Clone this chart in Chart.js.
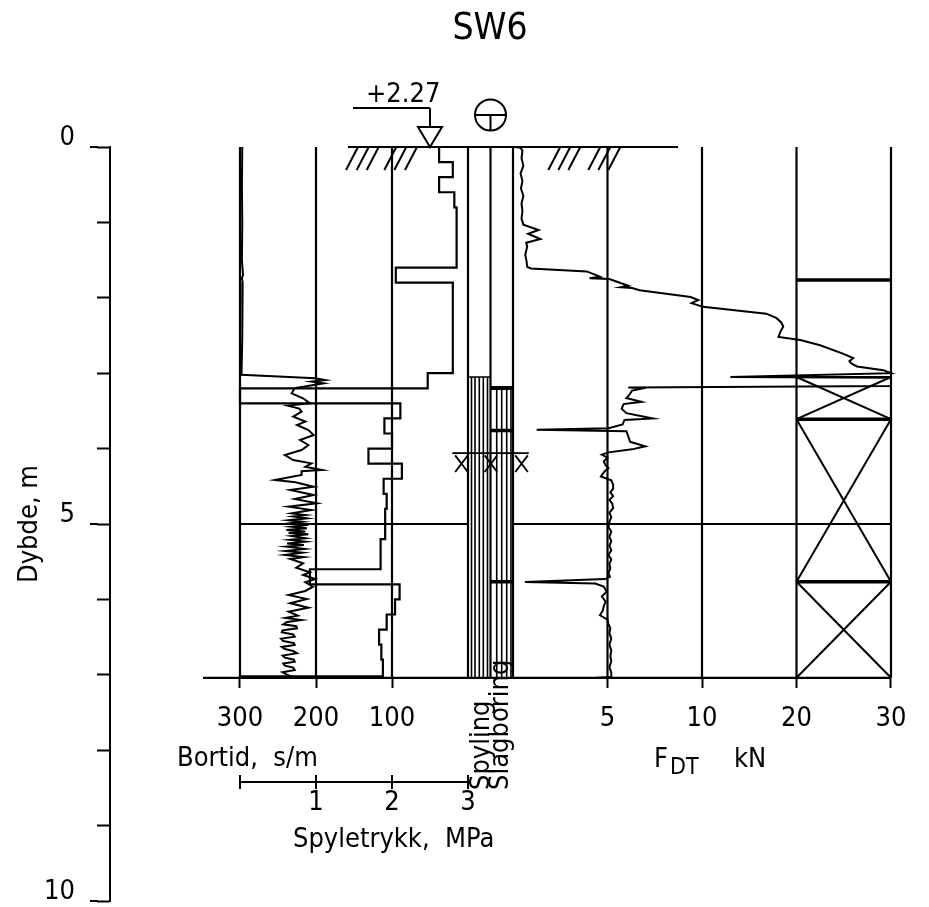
<!DOCTYPE html>
<html>
<head>
<meta charset="utf-8">
<title>SW6</title>
<script src="https://cdn.jsdelivr.net/npm/chart.js@4.4.1/dist/chart.umd.min.js"></script>
<style>
html,body{margin:0;padding:0;background:#fff;overflow:hidden}
#wrap{position:relative;width:929px;height:907px}
</style>
</head>
<body>
<div id="wrap"><canvas id="c" width="929" height="907"></canvas></div>
<script>
// ================= DATA =================
const chartTitle = 'SW6';
const groundLevelText = '+2.27';
const depthTickValues = [0,1,2,3,4,5,6,7,8,9,10];
const depthTickLabels = ['0','','','','','5','','','','','10'];
const bortidTickValues = [300,200,100];
const bortidTickLabels = ['300','200','100'];
const pressureTickValues = [1,2,3];
const pressureTickLabels = ['1','2','3'];
const forceTickValues = [5,10,20,30];
const forceTickLabels = ['5','10','20','30'];
const endDepth = 7.04;

// Bortid (s/m) vs depth (m)
const bortidDepth = [0.00,0.50,1.00,1.50,1.70,1.74,1.80,2.50,3.02,3.068,3.09,3.112,3.134,3.16,3.20,3.267,3.333,3.40,3.43,3.47,3.51,3.576,3.642,3.687,3.753,3.82,3.886,3.952,4.019,4.085,4.151,4.196,4.24,4.284,4.30,4.35,4.416,4.447,4.505,4.549,4.615,4.668,4.726,4.77,4.814,4.859,4.88,4.90,4.925,4.95,4.97,4.991,5.01,5.035,5.055,5.08,5.10,5.12,5.137,5.16,5.19,5.21,5.234,5.26,5.28,5.301,5.33,5.358,5.38,5.411,5.44,5.464,5.522,5.579,5.641,5.676,5.729,5.773,5.831,5.888,5.941,5.995,6.052,6.11,6.163,6.216,6.245,6.273,6.30,6.331,6.355,6.384,6.41,6.437,6.465,6.494,6.52,6.552,6.58,6.605,6.63,6.658,6.685,6.715,6.745,6.773,6.80,6.826,6.85,6.879,6.905,6.936,6.965,6.994,7.025];
const bortidValue = [297,297.5,297,297.5,296,297.5,296.5,297,298,201,188,206,190,205,228,232,217,208,237,222,219,230,214,225,210,203,221,210,219,241,230,206,214,192,219,219,254,227,203,234,203,228,199,236,206,232,214,230,212,236,218,234,210,232,212,239,214,236,210,232,214,234,214,238,216,239,215,240,218,241,216,234,217,226,208,217,201,214,204,214,236,212,234,210,236,224,240,219,238,243,226,225,244,245,230,228,246,243,229,228,245,241,230,225,244,241,229,228,243,241,230,228,244,239,232];

// Spyletrykk (MPa): value valid from each depth down to the next one
const pressureDepth = [0,0.2,0.4,0.6,0.8,1.6,1.8,3.0,3.2,3.4,3.6,3.8,4.0,4.2,4.4,4.6,4.8,5.2,5.6,5.8,6.0,6.2,6.4,6.6,6.8,7.02];
const pressureValue = [2.62,2.80,2.62,2.82,2.85,2.05,2.80,2.47,0,2.11,1.90,2.00,1.69,2.13,1.89,1.93,1.91,1.85,0.92,2.10,2.04,1.93,1.83,1.86,1.88,0];

// F_DT (kN) vs depth (m)
const forceDepth = [0.00,0.01,0.05,0.15,0.25,0.35,0.45,0.55,0.65,0.75,0.85,0.95,1.03,1.10,1.15,1.22,1.27,1.32,1.43,1.52,1.59,1.61,1.65,1.70,1.72,1.74,1.75,1.80,1.84,1.86,1.87,1.90,1.99,2.03,2.07,2.12,2.21,2.27,2.33,2.38,2.45,2.52,2.56,2.63,2.74,2.80,2.84,2.87,2.91,2.96,3.00,3.05,3.06,3.17,3.19,3.20,3.23,3.27,3.33,3.38,3.41,3.47,3.53,3.60,3.62,3.68,3.73,3.75,3.77,3.84,3.91,3.97,4.01,4.05,4.08,4.12,4.17,4.22,4.26,4.30,4.37,4.42,4.48,4.53,4.58,4.63,4.68,4.73,4.79,4.85,4.91,4.97,5.04,5.10,5.17,5.23,5.29,5.35,5.41,5.47,5.53,5.59,5.65,5.70,5.73,5.77,5.79,5.83,5.90,5.96,6.03,6.09,6.15,6.21,6.27,6.33,6.38,6.45,6.52,6.60,6.68,6.75,6.82,6.90,6.97,7.03,7.04];
const forceValue = [0.1,0.4,0.5,0.45,0.55,0.4,0.5,0.42,0.55,0.45,0.5,0.45,0.55,1.35,0.8,1.45,0.7,0.75,0.65,0.72,0.75,0.95,3.9,4.4,4.6,4.05,5.1,5.65,6.1,5.7,6.3,6.7,9.4,9.8,9.45,10.1,16.8,17.9,18.4,18.6,18.3,18.1,20.4,22.5,24.9,26.0,25.6,25.8,26.4,29.2,30.0,13.0,30.0,30.0,6.1,6.9,6.3,6.2,6.0,6.8,5.85,5.75,6.0,7.4,5.9,5.8,5.05,1.25,6.0,6.1,6.2,7.0,6.3,5.05,4.7,5.0,4.8,4.9,5.05,4.85,4.65,5.2,5.3,5.3,5.15,5.3,5.1,5.25,5.3,5.1,5.2,5.1,5.05,5.2,5.1,5.2,5.1,5.2,5.05,5.2,5.1,5.15,5.05,5.13,4.87,0.63,4.35,4.8,4.96,4.7,4.9,4.8,4.75,4.6,5.0,5.05,5.15,5.1,5.2,5.1,5.2,5.15,5.2,5.1,5.2,5.2,4.4];

// Drilling mode columns (depth intervals, m)
const spylingInterval = [3.05, 7.04];
const slagboringInterval = [3.18, 7.04];
const slagboringMarks = [3.20, 3.76, 5.765];
const stoneMarkDepth = 4.06;
// Right column (20-30 kN): marks and crossed intervals
const rightColumnMarks = [1.764, 3.61, 5.765];
const rightColumnCrosses = [[3.05, 3.61], [3.61, 5.765], [5.765, 7.04]];

// ================= LAYOUT (pixels, not data) =================
const FONT = "'Liberation Sans Narrow', 'DejaVu Sans Condensed', 'Liberation Sans', sans-serif";
// chart area right edge chosen so the (chart-area-centred) title sits at x = 490
const AREA = {left: 110, right: 870, top: 147, bottom: 901};
const SCALEBAR_DEPTH = 8.422;
function axisRange(v1, p1, v2, p2) {
  const k = (p2 - p1) / (v2 - v1);
  const a = v1 + (AREA.left - p1) / k, b = v1 + (AREA.right - p1) / k;
  return {min: Math.min(a, b), max: Math.max(a, b)};
}
const fx = f => (f <= 10 ? f : 10 + (f - 10) / 2);   // piecewise F_DT scale (0-10 and 10-30)
const rB = axisRange(300, 240, 0, 468);
const rP = axisRange(0, 240, 3, 468);
const rF = axisRange(0, 513, 10, 702);
const rC = axisRange(0, 468, 2, 513);
const spylingHatch = [0.156, 0.311, 0.502, 0.680, 0.867];
const slagHatch = [1.276, 1.498, 1.72, 1.91];

function segData(segs) {
  const out = [];
  segs.forEach(s => { out.push({x: s[0], y: s[1]}, {x: s[2], y: s[3]}, {x: null, y: null}); });
  return out;
}
const lineDs = (label, axis, data, width, extra) => Object.assign({
  label, xAxisID: axis, yAxisID: 'y', data, showLine: true, borderColor: '#000',
  backgroundColor: '#000', borderWidth: width, pointRadius: 0, fill: false, tension: 0, clip: false
}, extra || {});

const datasets = [
  lineDs('Bortid', 'xb', bortidDepth.map((d, i) => ({x: bortidValue[i], y: d})), 2),
  lineDs('Spyletrykk', 'xp', pressureDepth.map((d, i) => ({x: pressureValue[i], y: d})), 2.2, {stepped: 'after'}),
  lineDs('F_DT', 'xf', forceDepth.map((d, i) => ({x: fx(forceValue[i]), y: d})), 2),
  lineDs('Spyling', 'xc', segData([
    ...spylingHatch.map(h => [h, spylingInterval[0], h, spylingInterval[1]]),
    [0, spylingInterval[0], 1, spylingInterval[0]]
  ]), 1.6),
  lineDs('Slagboring', 'xc', segData([
    ...slagHatch.map(h => [h, slagboringInterval[0], h, slagboringInterval[1]]),
    [1, slagboringInterval[0], 2, slagboringInterval[0]]
  ]), 1.6),
  lineDs('Slagboring marks', 'xc', segData(slagboringMarks.map(d => [1, d, 2, d])), 3.5),
  lineDs('Stone', 'xc', segData([
    [-0.7, stoneMarkDepth, 2.7, stoneMarkDepth],
    ...[-0.29, 1.02, 2.38].flatMap(c => [[c - 0.28, stoneMarkDepth + 0.03, c + 0.28, stoneMarkDepth + 0.25], [c + 0.28, stoneMarkDepth + 0.03, c - 0.28, stoneMarkDepth + 0.25]])
  ]), 1.8),
  lineDs('Right marks', 'xf', segData(rightColumnMarks.map(d => [fx(20), d, fx(30), d])), 3.6),
  lineDs('Right crosses', 'xf', segData(rightColumnCrosses.flatMap(c => [
    [fx(20), c[0], fx(30), c[0]], [fx(20), c[0], fx(30), c[1]], [fx(30), c[0], fx(20), c[1]]
  ])), 2)
];

// ================= CHART =================
Chart.defaults.font.family = FONT;
Chart.defaults.color = '#000';

function txt(ctx, s, x, y, size, align, rot, sx) {
  ctx.save();
  ctx.translate(x, y);
  if (rot) ctx.rotate(rot);
  ctx.scale(sx || 1, 1);
  ctx.font = size + 'px ' + FONT;
  ctx.textAlign = align || 'left';
  ctx.textBaseline = 'alphabetic';
  ctx.fillStyle = '#000';
  ctx.fillText(s, 0, 0);
  ctx.restore();
}

const framePlugin = {
  id: 'frame',
  beforeDatasetsDraw(chart) {
    const {ctx, scales} = chart;
    const {y, xb, xf, xc, xp} = scales;
    const Y = d => y.getPixelForValue(d);
    const y0 = Y(0), yE = Y(endDepth);
    ctx.save();
    ctx.strokeStyle = '#000';
    ctx.lineCap = 'butt';
    const L = (x1, y1, x2, y2, w) => { ctx.lineWidth = w || 2; ctx.beginPath(); ctx.moveTo(x1, y1); ctx.lineTo(x2, y2); ctx.stroke(); };
    // vertical grid lines of the panels
    const vx = [...bortidTickValues.map(v => xb.getPixelForValue(v)), ...[0, 1, 2].map(v => xc.getPixelForValue(v)), ...forceTickValues.map(f => xf.getPixelForValue(fx(f)))];
    vx.forEach(px => L(px, y0, px, yE, 2.2));
    // 5 m line
    const y5 = Y(5);
    L(xb.getPixelForValue(300), y5, xc.getPixelForValue(0), y5, 2.2);
    L(xc.getPixelForValue(2), y5, xf.getPixelForValue(fx(30)), y5, 2.2);
    // bottom base line
    L(xb.getPixelForValue(300) - 37, yE, xf.getPixelForValue(fx(30)), yE, 2.2);
    // ground line + hatches
    L(348, y0, 678, y0, 2.2);
    [346, 356.7, 366.7, 384.3, 394.3, 405, 548.3, 558.3, 568.3, 588.3, 598.3, 608.3].forEach(hx => L(hx, y0 + 23, hx + 12, y0, 2));
    // ground level symbol
    const ax = 430;
    ctx.lineWidth = 2;
    ctx.beginPath(); ctx.moveTo(ax - 12, y0 - 20); ctx.lineTo(ax + 12, y0 - 20); ctx.lineTo(ax, y0); ctx.closePath(); ctx.stroke();
    L(ax, y0 - 20, ax, y0 - 39, 2);
    L(353, y0 - 39, ax, y0 - 39, 2);
    // circle symbol
    const cx = xc.getPixelForValue(1), cy = y0 - 32, r = 15.5;
    ctx.lineWidth = 2;
    ctx.beginPath(); ctx.arc(cx, cy, r, 0, Math.PI * 2); ctx.stroke();
    L(cx - r, cy, cx + r, cy, 2);
    L(cx, cy, cx, cy + r, 2);
    // longer depth ticks at labelled depths
    depthTickValues.forEach((d, i) => { if (depthTickLabels[i]) L(AREA.left - 20, Y(d), AREA.left - 12, Y(d), 2); });
    // pressure scale bar
    const yb = Y(SCALEBAR_DEPTH);
    L(xp.getPixelForValue(0), yb, xp.getPixelForValue(3), yb, 2);
    [0, 1, 2, 3].forEach(v => L(xp.getPixelForValue(v), yb - 7, xp.getPixelForValue(v), yb + 7, 2));
    ctx.restore();
  },
  afterDraw(chart) {
    const {ctx} = chart;
    const y0 = chart.scales.y.getPixelForValue(0);
    txt(ctx, groundLevelText, 366, y0 - 45, 27);
    txt(ctx, 'Bortid,  s/m', 177, 766, 27);
    txt(ctx, 'F', 654, 767, 27);
    txt(ctx, 'DT', 670, 774, 23);
    txt(ctx, 'kN', 734, 767, 27);
    txt(ctx, 'Spyletrykk,  MPa', 293, 847, 27);
    txt(ctx, 'Spyling', 489, 790, 27, 'left', -Math.PI / 2);
    txt(ctx, 'Slagboring', 508, 790, 27, 'left', -Math.PI / 2);
  }
};

const zeroPad = s => { s.paddingLeft = 0; s.paddingRight = 0; s.paddingTop = 0; s.paddingBottom = 0; };
const tickFont = {size: 27, family: FONT};
const xAxisBase = (range, pos) => ({
  type: 'linear', axis: 'x', position: pos, min: range.min, max: range.max,
  border: {display: false},
  grid: {drawOnChartArea: false, drawTicks: true, tickLength: 10, tickWidth: 2, tickColor: '#000'},
  ticks: {font: tickFont, color: '#000', autoSkip: false, maxRotation: 0, padding: 15},
  afterFit: zeroPad
});

const scales = {
  y: {
    type: 'linear', axis: 'y', position: 'left', min: 0, max: 10, reverse: true,
    afterBuildTicks: s => { s.ticks = depthTickValues.map(v => ({value: v})); },
    ticks: {font: tickFont, color: '#000', autoSkip: false, padding: 22, labelOffset: -9.5,
      callback: (v, i) => depthTickLabels[i]},
    grid: {drawOnChartArea: false, drawTicks: true, tickLength: 13, tickWidth: 2, tickColor: '#000'},
    border: {display: true, width: 2, color: '#000'},
    title: {display: true, text: 'Dybde, m', font: {size: 27, family: FONT}, color: '#000', padding: {top: 13.8, bottom: 0}},
    afterFit: s => { s.width = AREA.left; zeroPad(s); }
  },
  xb: Object.assign(xAxisBase(rB, {y: endDepth}), {
    reverse: true,
    afterBuildTicks: s => { s.ticks = bortidTickValues.map(v => ({value: v})); }
  }),
  xf: xAxisBase(rF, {y: endDepth}),
  xp: xAxisBase(rP, {y: SCALEBAR_DEPTH}),
  xc: {type: 'linear', axis: 'x', display: false, min: rC.min, max: rC.max}
};
scales.xb.ticks = Object.assign({}, scales.xb.ticks, {callback: (v, i) => bortidTickLabels[i]});
scales.xf.afterBuildTicks = s => { s.ticks = forceTickValues.map(f => ({value: fx(f)})); };
scales.xf.ticks = Object.assign({}, scales.xf.ticks, {callback: (v, i) => forceTickLabels[i]});
scales.xp.afterBuildTicks = s => { s.ticks = pressureTickValues.map(v => ({value: v})); };
scales.xp.grid = {drawOnChartArea: false, drawTicks: false};
scales.xp.ticks = Object.assign({}, scales.xp.ticks, {padding: 5, callback: (v, i) => pressureTickLabels[i]});

new Chart(document.getElementById('c'), {
  type: 'scatter',
  data: {datasets},
  options: {
    responsive: false,
    animation: false,
    devicePixelRatio: 1,
    layout: {padding: {left: 0, top: 7, right: 929 - AREA.right, bottom: 907 - AREA.bottom}},
    plugins: {
      legend: {display: false},
      tooltip: {enabled: false},
      title: {display: true, fullSize: false, text: chartTitle, font: {size: 37, family: FONT, weight: 'normal'}, color: '#000', padding: {top: 0, bottom: 147 - 7 - 37 * 1.2}}
    },
    scales
  },
  plugins: [framePlugin]
});
</script>
</body>
</html>
